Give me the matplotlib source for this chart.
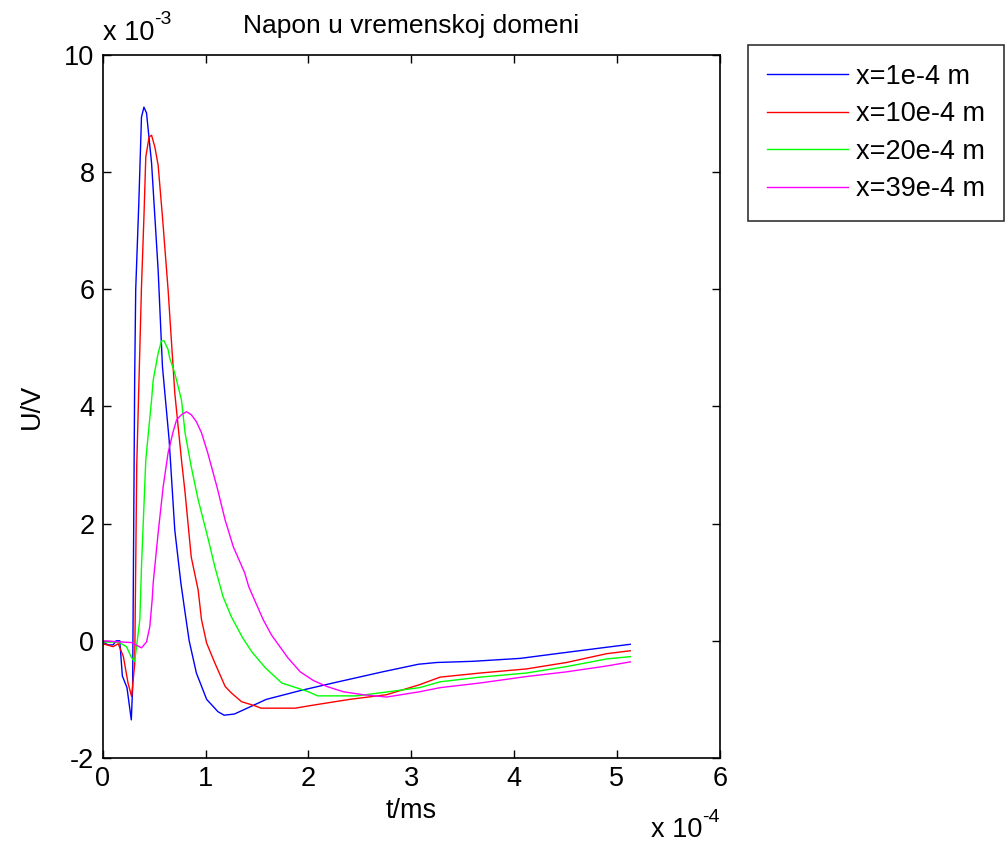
import matplotlib
matplotlib.use("Agg")
import matplotlib.pyplot as plt

plt.rcParams['font.family'] = ['Liberation Sans', 'DejaVu Sans']
plt.rcParams['axes.unicode_minus'] = False

# vrijeme u jedinicama 1e-4, napon u jedinicama 1e-3
t1 = [0, 0.05, 0.1, 0.13, 0.165, 0.19, 0.235, 0.277, 0.29, 0.31, 0.32, 0.35, 0.376, 0.40,
      0.425, 0.474, 0.538, 0.58, 0.645, 0.70, 0.759, 0.80, 0.84, 0.91, 1.01, 1.12, 1.18, 1.28,
      1.59, 1.92, 2.24, 2.72, 3.07, 3.25, 3.60, 4.06, 4.41, 4.90, 5.13]
u1 = [-0.02, -0.07, -0.07, 0.0, 0.0, -0.6, -0.8, -1.35, -0.8, 4.5, 6.0, 7.47, 8.94, 9.11,
      9.01, 8.16, 6.33, 4.68, 3.43, 1.89, 0.99, 0.48, 0.0, -0.55, -1.0, -1.21, -1.27, -1.25,
      -1.0, -0.85, -0.72, -0.53, -0.40, -0.37, -0.35, -0.30, -0.22, -0.11, -0.06]

t2 = [0, 0.1, 0.15, 0.2, 0.245, 0.28, 0.31, 0.33, 0.376, 0.40, 0.418, 0.45, 0.474, 0.506,
      0.538, 0.58, 0.635, 0.70, 0.765, 0.80, 0.86, 0.927, 0.96, 1.01, 1.09, 1.19, 1.25,
      1.35, 1.48, 1.54, 1.87, 2.04, 2.40, 2.76, 3.08, 3.28, 3.67, 4.12, 4.51, 4.90, 5.13]
u2 = [-0.05, -0.1, -0.05, -0.27, -0.72, -0.95, -0.4, 3.0, 6.04, 7.24, 8.26, 8.6, 8.63, 8.43,
      8.12, 7.24, 5.99, 4.23, 3.09, 2.53, 1.43, 0.87, 0.36, -0.04, -0.38, -0.78, -0.89,
      -1.04, -1.11, -1.15, -1.15, -1.1, -1.0, -0.92, -0.75, -0.62, -0.55, -0.48, -0.37,
      -0.22, -0.17]

t3 = [0, 0.15, 0.23, 0.28, 0.31, 0.34, 0.36, 0.376, 0.418, 0.474, 0.49, 0.538, 0.57, 0.596,
      0.635, 0.65, 0.70, 0.765, 0.80, 0.86, 0.927, 1.02, 1.09, 1.17, 1.25, 1.36, 1.45, 1.58,
      1.74, 1.88, 2.0, 2.09, 2.47, 2.69, 3.08, 3.28, 3.67, 4.12, 4.51, 4.90, 5.13]
u3 = [-0.02, -0.02, -0.1, -0.29, -0.35, 0.07, 0.36, 1.26, 3.09, 4.11, 4.45, 4.91, 5.12, 5.12,
      4.97, 4.83, 4.57, 4.11, 3.55, 2.97, 2.41, 1.77, 1.26, 0.75, 0.41, 0.05, -0.19, -0.46,
      -0.72, -0.80, -0.87, -0.94, -0.94, -0.89, -0.80, -0.70, -0.62, -0.55, -0.44, -0.31,
      -0.27]

t4 = [0, 0.28, 0.376, 0.425, 0.457, 0.48, 0.49, 0.538, 0.587, 0.635, 0.684, 0.717, 0.765,
      0.814, 0.86, 0.91, 0.96, 1.02, 1.11, 1.19, 1.27, 1.38, 1.42, 1.56, 1.64, 1.80, 1.92,
      2.05, 2.18, 2.34, 2.53, 2.76, 3.08, 3.28, 3.67, 4.12, 4.51, 4.90, 5.13]
u4 = [0.0, -0.03, -0.12, -0.02, 0.24, 0.70, 0.99, 1.84, 2.63, 3.21, 3.57, 3.77, 3.86, 3.91,
      3.86, 3.74, 3.55, 3.21, 2.63, 2.06, 1.60, 1.16, 0.92, 0.36, 0.10, -0.29, -0.53, -0.68,
      -0.78, -0.87, -0.92, -0.96, -0.87, -0.80, -0.72, -0.61, -0.53, -0.43, -0.36]

labels = ['x=1e-4 m', 'x=10e-4 m', 'x=20e-4 m', 'x=39e-4 m']
colors = ['#0000ff', '#ff0000', '#00ff00', '#ff00ff']

FS = 19.5

fig = plt.figure(figsize=(10.08, 8.42), dpi=100)
ax = fig.add_axes([0.102, 0.0998, 0.612, 0.8349])

for t, u, lab, c in zip([t1, t2, t3, t4], [u1, u2, u3, u4], labels, colors):
    ax.plot(t, u, color=c, lw=1.0, label=lab)

ax.set_xlim(0, 6)
ax.set_ylim(-2, 10)
ax.set_xticks(range(0, 7))
ax.set_yticks(range(-2, 11, 2))
ax.tick_params(direction='in', top=True, right=True, length=6, width=1,
               labelsize=FS, pad=6)
for s in ax.spines.values():
    s.set_linewidth(1.2)

ax.set_title('Napon u vremenskoj domeni', fontsize=19, pad=16)
ax.set_xlabel('t/ms', fontsize=FS, labelpad=4)
ax.set_ylabel('U/V', fontsize=FS, labelpad=14)

# faktori skale osi (x 10^-3 i x 10^-4)
fig.text(0.102, 0.9525, 'x 10', fontsize=FS, va='baseline')
fig.text(0.153, 0.972, '-3', fontsize=14, va='baseline')
fig.text(0.646, 0.006, 'x 10', fontsize=FS, va='baseline')
fig.text(0.697, 0.024, '-4', fontsize=14, va='baseline')

leg = ax.legend(loc='upper left', bbox_to_anchor=(0.742, 0.9466),
                bbox_transform=fig.transFigure, fontsize=FS, frameon=True,
                fancybox=False, edgecolor='black', handlelength=3.0,
                handletextpad=0.3, borderpad=0.7, labelspacing=0.42,
                borderaxespad=0)
leg.get_frame().set_linewidth(1.2)

fig.savefig('out.png', dpi=100)
